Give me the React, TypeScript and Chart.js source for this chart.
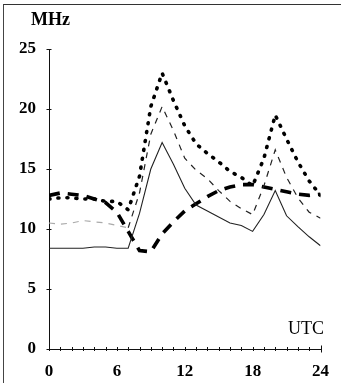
import React, { useEffect, useRef } from 'react';
import { Chart, registerables } from 'chart.js';

Chart.register(...registerables);

const hours = [0, 1, 2, 3, 4, 5, 6, 7, 8, 9, 10, 11, 12, 13, 14, 15, 16, 17, 18, 19, 20, 21, 22, 23, 24];
const solidSeries = [8.4, 8.4, 8.4, 8.4, 8.5, 8.5, 8.4, 8.4, 11.3, 15.0, 17.2, 15.4, 13.4, 12.0, 11.5, 11.0, 10.5, 10.3, 9.8, 11.2, 13.2, 11.1, 10.2, 9.35, 8.6];
const thinDashSeries = [10.5, 10.4, 10.5, 10.7, 10.6, 10.5, 10.3, 10.1, 13.0, 17.9, 20.2, 18.2, 15.9, 14.9, 14.2, 13.2, 12.3, 11.7, 11.2, 13.6, 16.6, 14.3, 12.6, 11.4, 10.9];
const dottedSeries = [12.5, 12.6, 12.6, 12.5, 12.5, 12.3, 12.3, 11.6, 14.4, 20.2, 23.0, 20.7, 18.6, 17.1, 16.3, 15.6, 14.8, 14.3, 13.6, 15.9, 19.5, 17.5, 15.6, 14.0, 12.8];
const heavyDashSeries = [12.8, 13.0, 12.9, 12.8, 12.5, 12.2, 11.4, 9.8, 8.2, 8.1, 9.6, 10.6, 11.5, 12.1, 12.7, 13.2, 13.5, 13.7, 13.7, 13.5, 13.3, 13.1, 12.9, 12.8, 12.9];
const xTickLabels = [0, 6, 12, 18, 24];
const yTickLabels = [0, 5, 10, 15, 20, 25];

const FONT = '"Liberation Serif", "Times New Roman", serif';

const toPoints = (vals: number[]) => hours.map((h, i) => ({ x: h, y: vals[i] }));

const crossTicks = {
  id: 'crossTicks',
  afterDraw(chart: any) {
    const { ctx, scales } = chart;
    const xs = scales.x;
    const ys = scales.y;
    const y0 = ys.getPixelForValue(0);
    const x0 = xs.getPixelForValue(0);
    ctx.save();
    ctx.strokeStyle = '#111';
    ctx.lineWidth = 1;
    ctx.beginPath();
    hours.forEach((h) => {
      const px = Math.round(xs.getPixelForValue(h)) + 0.5;
      const len = h === 24 ? 3.5 : 2;
      ctx.moveTo(px, y0 - len);
      ctx.lineTo(px, y0 + len);
    });
    yTickLabels.forEach((v) => {
      const py = Math.round(ys.getPixelForValue(v)) + 0.5;
      ctx.moveTo(x0 - 2.5, py);
      ctx.lineTo(x0 + 2.5, py);
    });
    ctx.stroke();
    ctx.restore();
  },
};

export default function App() {
  const ref = useRef<HTMLCanvasElement | null>(null);

  useEffect(() => {
    document.body.style.margin = '0';
    if (!ref.current) return;
    const chart = new Chart(ref.current, {
      type: 'line',
      data: {
        datasets: [
          {
            label: 'solid',
            data: toPoints(solidSeries),
            borderColor: '#222',
            borderWidth: 1.1,
            pointRadius: 0,
            tension: 0,
          },
          {
            label: 'thin dashed',
            data: toPoints(thinDashSeries),
            borderColor: '#222',
            borderWidth: 1.2,
            borderDash: [6, 6],
            pointRadius: 0,
            tension: 0,
            segment: {
              borderColor: (c: any) => (c.p1.parsed.x <= 7 ? '#aaa' : '#222'),
            },
          },
          {
            label: 'dotted',
            data: toPoints(dottedSeries),
            borderColor: '#000',
            borderWidth: 3.6,
            borderDash: [1, 8],
            borderCapStyle: 'round',
            pointRadius: 0,
            tension: 0,
          },
          {
            label: 'heavy dashed',
            data: toPoints(heavyDashSeries),
            borderColor: '#000',
            borderWidth: 3.6,
            borderDash: [11, 8],
            pointRadius: 0,
            tension: 0,
          },
        ],
      },
      options: {
        responsive: false,
        animation: false,
        events: [],
        layout: { padding: { top: 49, right: 15, left: 0, bottom: 0 } },
        plugins: { legend: { display: false }, tooltip: { enabled: false }, title: { display: false } },
        scales: {
          x: {
            type: 'linear',
            min: 0,
            max: 24,
            afterBuildTicks: (s: any) => {
              s.ticks = xTickLabels.map((v) => ({ value: v }));
            },
            afterFit: (s: any) => {
              s.height = 34;
            },
            ticks: {
              color: '#000',
              padding: 12,
              maxRotation: 0,
              autoSkip: false,
              font: { family: FONT, size: 17, weight: 'bold' },
            },
            grid: { display: false, drawTicks: false },
            border: { display: true, color: '#111', width: 1 },
          },
          y: {
            type: 'linear',
            min: 0,
            max: 25,
            afterBuildTicks: (s: any) => {
              s.ticks = yTickLabels.map((v) => ({ value: v }));
            },
            afterFit: (s: any) => {
              s.width = 49;
            },
            ticks: {
              color: '#000',
              padding: 13,
              autoSkip: false,
              font: { family: FONT, size: 17, weight: 'bold' },
            },
            grid: { display: false, drawTicks: false },
            border: { display: true, color: '#111', width: 1 },
          },
        },
      },
      plugins: [crossTicks],
    });
    return () => chart.destroy();
  }, []);

  return (
    <div style={{ position: 'relative', width: 341, height: 383, background: '#fff', overflow: 'hidden' }}>
      <canvas ref={ref} width={341} height={383} style={{ display: 'block' }} />
      <div
        style={{
          position: 'absolute',
          left: 3,
          top: 4,
          width: 340,
          height: 380,
          borderLeft: '1px solid #444',
          borderTop: '1.5px solid #333',
          pointerEvents: 'none',
        }}
      />
      <div
        style={{
          position: 'absolute',
          left: 31,
          top: 9,
          fontFamily: FONT,
          fontWeight: 'bold',
          fontSize: 18,
          lineHeight: '20px',
          color: '#000',
        }}
      >
        MHz
      </div>
      <div
        style={{
          position: 'absolute',
          left: 288,
          top: 318,
          fontFamily: FONT,
          fontSize: 18,
          lineHeight: '20px',
          color: '#000',
        }}
      >
        UTC
      </div>
    </div>
  );
}
